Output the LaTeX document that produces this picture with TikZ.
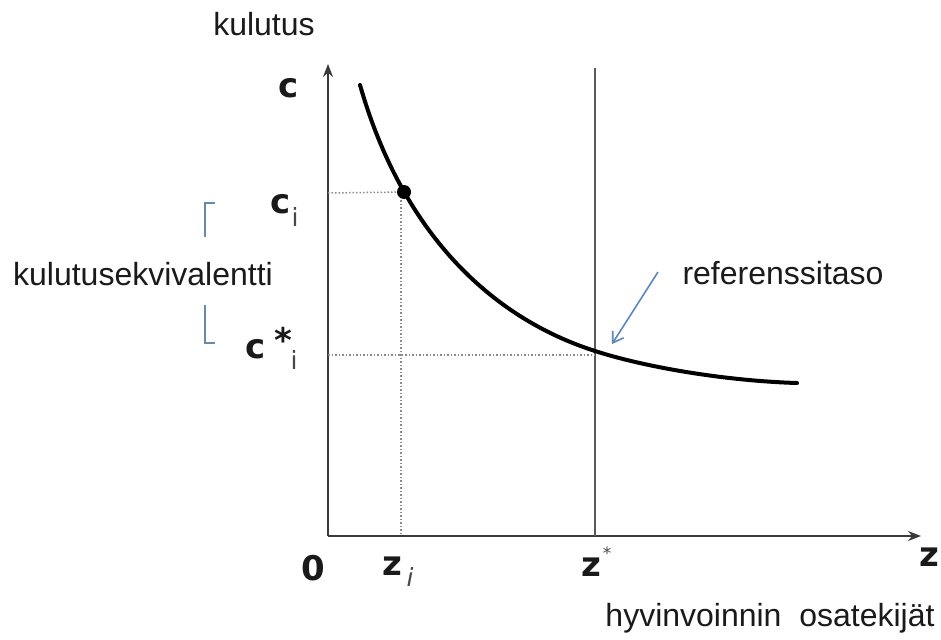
\documentclass[tikz,border=0pt]{standalone}
\usepackage{fontspec}
\setmainfont{Liberation Sans}
\newfontfamily\symfont{DejaVu Sans}
\usetikzlibrary{arrows.meta}
\definecolor{axisgray}{HTML}{3A3A3A}
\definecolor{linegray}{HTML}{5A5A5A}
\definecolor{dotgray}{HTML}{8A8A8A}
\definecolor{brackblue}{HTML}{6A88A8}
\definecolor{arrowblue}{HTML}{5B86C0}
\definecolor{txt}{HTML}{1A1A1A}
\tikzset{
  lbl/.style={font=\fontsize{32}{36}\selectfont, text=txt, inner sep=0pt},
  sym/.style={font=\symfont\bfseries\fontsize{34}{38}\selectfont, text=txt, inner sep=0pt},
  symsub/.style={font=\symfont\fontsize{25}{27}\selectfont, text=txt!80, inner sep=0pt},
  axisline/.style={draw=axisgray, line width=2.4pt},
  guide/.style={draw=dotgray, line width=1.5pt, dotted},
  curveline/.style={draw=black, line width=4pt, line cap=round},
  brack/.style={draw=brackblue, line width=1.6pt},
}
\begin{document}
\begin{tikzpicture}[x=1pt,y=-1pt]
\useasboundingbox (0,0) rectangle (941,639);
% axes
\coordinate (O) at (328,536);
\coordinate (ytop) at (328,64);
\coordinate (xend) at (921,536);
\draw[axisline, -{Stealth[length=13pt,width=10pt]}] (O) -- (ytop);
\draw[axisline, -{Stealth[length=13pt,width=10pt]}] (O) -- (xend);
% reference level line
\coordinate (refTop) at (595,68);
\coordinate (refBot) at (595,536);
\draw[draw=linegray, line width=2.4pt] (refBot) -- (refTop);
% guides
\coordinate (ciAx) at (328,193);
\coordinate (P) at (404,192);
\coordinate (ziAx) at (401,536);
\coordinate (ziTop) at (401,193);
\coordinate (csAx) at (328,355);
\coordinate (csEnd) at (595,355);
\draw[guide] (ciAx) -- (P);
\draw[guide] (ziTop) -- (ziAx);
\draw[guide] (csAx) -- (csEnd);
% curve
\coordinate (cS) at (360,85);
\coordinate (cM) at (595,351);
\coordinate (cE) at (797,383);
\draw[curveline] (cS) .. controls (402,232) and (490,317.4) .. (cM)
  .. controls (648.4,368.2) and (729.2,381) .. (cE);
\fill (P) circle (7pt);
% labels
\node[lbl] (kulutus) at (264,24) {kulutus};
\node[sym] (c) at (289,88) {c};
\node[sym] (ci) at (281,204) {c};
\node[symsub] (cisub) at (295,217) {i};
\node[sym] (cs) at (256,349) {c};
\node[sym] (csstar) at (283,340) {*};
\node[symsub] (cssub) at (294,360) {i};
\node[lbl] (kekv) at (143,274) {kulutusekvivalentti};
\node[lbl] (ref) at (783,273) {referenssitaso};
\node[sym] (zero) at (313,568) {0};
\node[sym] (zi) at (392,566) {z};
\node[symsub, font=\symfont\itshape\fontsize{25}{27}\selectfont] (zisub) at (410,577) {i};
\node[sym] (zs) at (591,567) {z};
\node[symsub, font=\symfont\fontsize{17}{19}\selectfont] (zsstar) at (607,553) {*};
\node[sym] (z) at (929,557) {z};
\node[lbl] (hyv) at (770,618) {hyvinvoinnin\ \ osatekijät};
% bracket
\draw[brack] (215,203) -- (205,203) -- (205,237);
\draw[brack] (205,305) -- (205,343) -- (215,343);
% arrow
\coordinate (arrS) at (658,272);
\coordinate (arrE) at (612,344);
\draw[draw=arrowblue, line width=1.6pt, -{Straight Barb[length=10pt,width=13pt]}] (arrS) -- (arrE);
\end{tikzpicture}
\end{document}
